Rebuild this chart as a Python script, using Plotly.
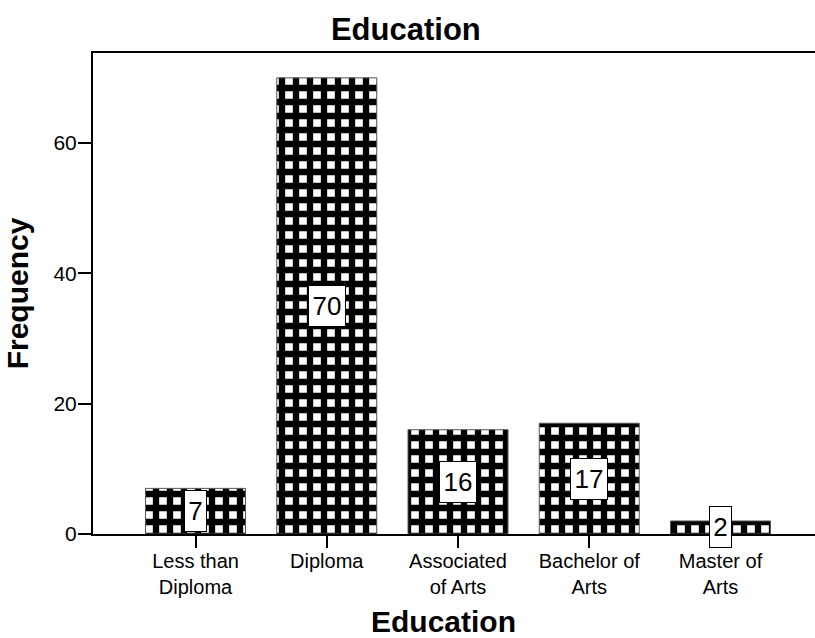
import plotly.graph_objects as go

# Frequency of respondents by highest education level
categories = ["Less than<br>Diploma", "Diploma", "Associated<br>of Arts",
              "Bachelor of<br>Arts", "Master of<br>Arts"]
frequency = [7, 70, 16, 17, 2]
y_ticks = [0, 20, 40, 60]

FONT = "Liberation Sans, Arial, sans-serif"

fig = go.Figure()
fig.add_trace(go.Bar(
    x=categories,
    y=frequency,
    width=0.762,
    marker=dict(
        color="white",
        line=dict(color="#555555", width=1),
        pattern=dict(shape="+", fgcolor="black", bgcolor="white",
                     size=14, solidity=0.7, fillmode="replace"),
    ),
    hoverinfo="x+y",
))

# Boxed count labels in the middle of each bar
for cat, val in zip(categories, frequency):
    txt = str(val)
    fig.add_annotation(
        x=cat, y=val / 2, xref="x", yref="y",
        text=txt, showarrow=False,
        font=dict(family=FONT, size=26, color="black"),
        bgcolor="white", bordercolor="black", borderwidth=1,
        borderpad=2, width=15 * len(txt) + 2, height=36,
        xanchor="center", yanchor="middle",
    )

# Axis title below the category labels
fig.add_annotation(
    x=0.486, y=0, xref="paper", yref="paper",
    yshift=-69, text="<b>Education</b>", showarrow=False,
    font=dict(family=FONT, size=30, color="black"),
    xanchor="center", yanchor="top",
)

fig.update_layout(
    width=815, height=638,
    margin=dict(l=93, r=0, t=53, b=104),
    paper_bgcolor="white", plot_bgcolor="white",
    showlegend=False,
    font=dict(family=FONT, color="black"),
    title=dict(text="<b>Education</b>", x=0.498, xanchor="center",
               y=0.972, yanchor="top",
               font=dict(family=FONT, size=31, color="black")),
    xaxis=dict(
        range=[-0.781, 4.72],
        showline=True, linecolor="black", linewidth=2, mirror=True,
        ticks="outside", ticklen=12, tickwidth=2, tickcolor="black",
        ticklabelstandoff=-4,
        tickfont=dict(family=FONT, size=20, color="black"),
        showgrid=False, zeroline=False,
    ),
    yaxis=dict(
        range=[0, 73.81],
        tickvals=y_ticks,
        showline=True, linecolor="black", linewidth=2,
        ticks="outside", ticklen=13, tickwidth=2, tickcolor="black",
        ticklabelstandoff=-3,
        tickfont=dict(family=FONT, size=21, color="black"),
        showgrid=False, zeroline=False,
        title=dict(text="<b>Frequency</b>", standoff=16,
                   font=dict(family=FONT, size=30, color="black")),
    ),
)

fig.write_html("out.html")
